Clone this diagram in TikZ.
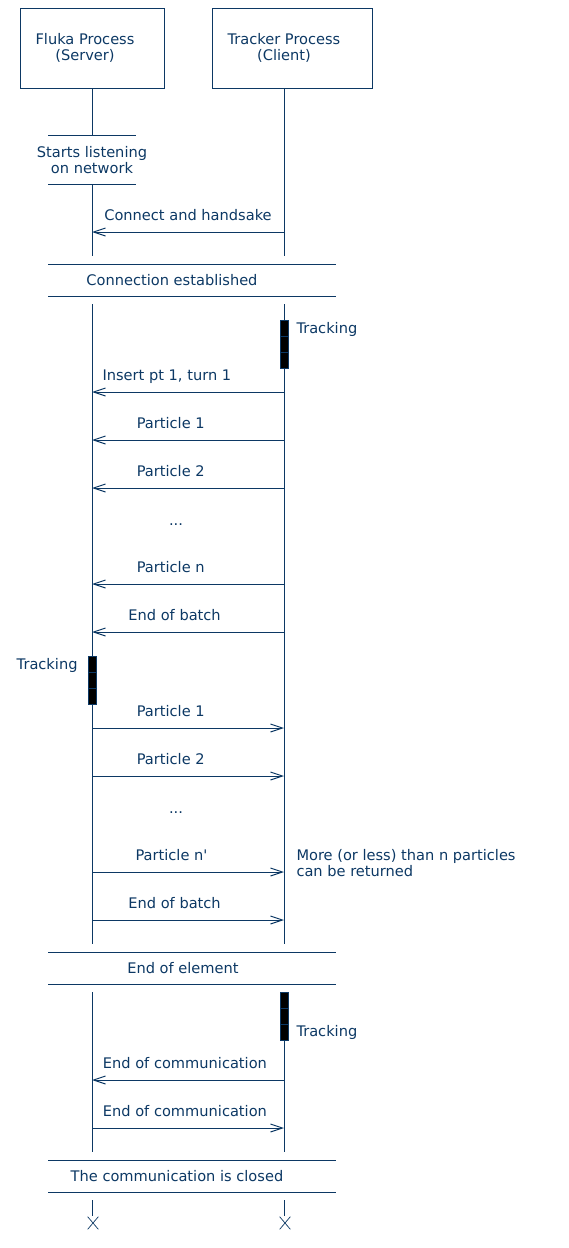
\documentclass[tikz,border=0pt]{standalone}
\usepackage{fontspec}
\newfontfamily\mscfont{DejaVu Sans}
\usetikzlibrary{arrows.meta,positioning,shapes.misc}
\definecolor{mscblue}{RGB}{12,56,100}
\tikzset{>={Straight Barb[length=12pt,width=8pt]}}

\begin{document}
\begin{tikzpicture}[x=1pt,y=-1pt,line width=1pt,color=mscblue,
    every node/.style={inner sep=0pt,font=\mscfont\fontsize{14.6}{16}\selectfont},
    proc/.style={draw,minimum height=80pt},
    state/.style={minimum width=88pt,minimum height=48pt,align=center},
    actcell/.style={draw,fill=black,minimum width=8pt,minimum height=16pt},
    stop/.style={cross out,draw,line width=.7pt,minimum width=10pt,minimum height=12pt},
    lbl/.style={anchor=base,yshift=11.5pt}]
    \useasboundingbox (0,0) rectangle (568,1248);

    % the two processes
    \node[proc,minimum width=144pt] (fluka) at (92,48) {};
    \node[proc,minimum width=160pt] (tracker) at (292,48) {};
    \node[align=center] (flukatxt) at (85,48) {Fluka Process\\(Server)};
    \node[align=center] (trackertxt) at (284,48) {Tracker Process\\(Client)};

    % lifelines, broken where a bar goes across
    \foreach \a/\b in {88/136,184/256,304/944,992/1152,1200/1216}
        \draw (92,\a) -- (92,\b);
    \foreach \a/\b in {88/256,304/944,992/1152,1200/1216}
        \draw (284,\a) -- (284,\b);

    \node[state] (listen) at (92,160) {Starts listening\\on network};
    \draw ([xshift=-44pt]listen.north) -- ([xshift=44pt]listen.north)
        ([xshift=-44pt]listen.south) -- ([xshift=44pt]listen.south);

    % bars across both processes
    \foreach \nm/\y/\cx/\txt in {est/280/172/Connection established,
        elem/968/183/End of element, closed/1176/177/The communication is closed}{
        \draw (48,\y-16) -- (336,\y-16) (48,\y+16) -- (336,\y+16);
        \node[anchor=base] (\nm) at (\cx,\y+5) {\txt};
    }

    % tracking phases
    \foreach \i in {0,1,2} {
        \node[actcell] (trka\i) at (284,328+16*\i) {};
        \node[actcell] (trkb\i) at (92,664+16*\i) {};
        \node[actcell] (trkc\i) at (284,1000+16*\i) {};
    }
    \node[anchor=base west] (trkla) at (296,333) {Tracking};
    \node[anchor=base east] (trklb) at (78,669) {Tracking};
    \node[anchor=base west] (trklc) at (296,1036) {Tracking};

    % message ends on each lifeline
    \foreach \m/\y in {hs/232,ins/392,pa/440,pb/488,pn/584,eb/632,
        ra/728,rb/776,rn/872,re/920,ca/1080,cb/1128}{
        \coordinate (s-\m) at (92,\y);
        \coordinate (c-\m) at (284,\y);
    }

    \draw[<-] (s-hs) -- node[lbl] {Connect and handsake} (c-hs);
    \draw[<-] (s-ins) -- node[lbl,pos=.39] {Insert pt 1, turn 1} (c-ins);
    \draw[<-] (s-pa) -- node[lbl,pos=.41] {Particle 1} (c-pa);
    \draw[<-] (s-pb) -- node[lbl,pos=.41] {Particle 2} (c-pb);
    \node[anchor=base] (dotsa) at (176,525) {...};
    \draw[<-] (s-pn) -- node[lbl,pos=.41] {Particle n} (c-pn);
    \draw[<-] (s-eb) -- node[lbl,pos=.43] {End of batch} (c-eb);

    \draw[->] (s-ra) -- node[lbl,pos=.41] {Particle 1} (c-ra);
    \draw[->] (s-rb) -- node[lbl,pos=.41] {Particle 2} (c-rb);
    \node[anchor=base] (dotsb) at (176,813) {...};
    \draw[->] (s-rn) -- node[lbl,pos=.414] {Particle n'} (c-rn);
    \node[anchor=base west,align=left] (note) at (296,876) {More (or less) than n particles\\can be returned};
    \draw[->] (s-re) -- node[lbl,pos=.43] {End of batch} (c-re);

    \draw[<-] (s-ca) -- node[lbl,pos=.484] {End of communication} (c-ca);
    \draw[->] (s-cb) -- node[lbl,pos=.484] {End of communication} (c-cb);

    % end of both processes
    \node[stop] (flukaend) at (93,1223) {};
    \node[stop] (trackerend) at (285,1223) {};
\end{tikzpicture}
\end{document}
